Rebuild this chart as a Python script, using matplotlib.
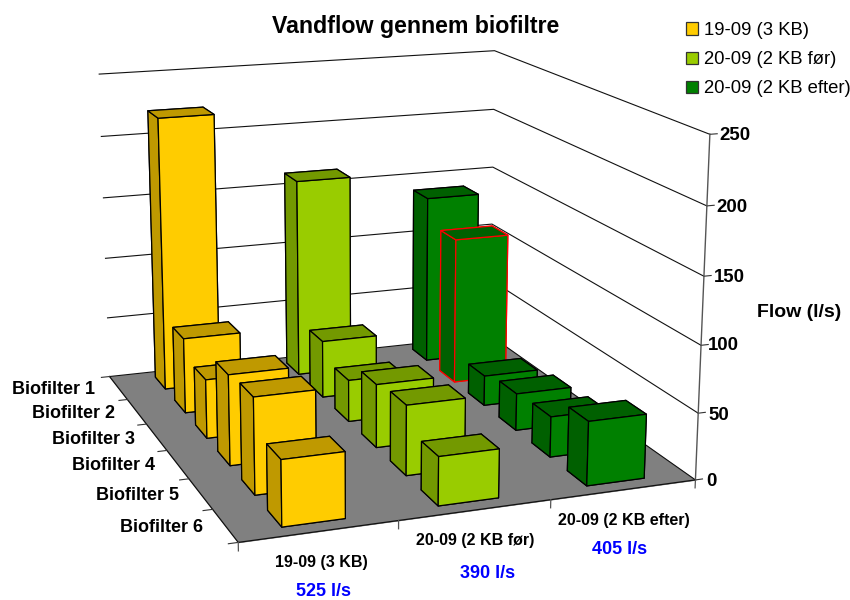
import matplotlib
matplotlib.use('Agg')
import matplotlib.pyplot as plt
from matplotlib.patches import Patch
from mpl_toolkits.mplot3d.art3d import Poly3DCollection

plt.rcParams['font.family'] = ['Liberation Sans', 'DejaVu Sans']

title = 'Vandflow gennem biofiltre'
series = ['19-09 (3 KB)', '20-09 (2 KB før)', '20-09 (2 KB efter)']
filters = ['Biofilter 1', 'Biofilter 2', 'Biofilter 3', 'Biofilter 4', 'Biofilter 5', 'Biofilter 6']
flow_a = [221, 60, 46, 69, 72, 48]
flow_b = [162, 46, 33, 49, 53, 36]
flow_c = [139, 119, 24, 29, 31, 48]
flows = [flow_a, flow_b, flow_c]
totals = ['525 l/s', '390 l/s', '405 l/s']
zticks = [0, 50, 100, 150, 200, 250]

face_cols = ['#FFCC00', '#99CC00', '#008000']
dark_cols = ['#BF9900', '#739900', '#006000']

W, H = 850, 600
nx, ny = len(series), len(filters)
zmax = zticks[-1]


def put(x, y, s, **kw):
    # text placed in picture pixels
    kw.setdefault('va', 'center')
    return fig.text(x / W, 1 - (y + 1) / H, s, **kw)


fig = plt.figure(figsize=(8.5, 6), dpi=100)
# square axes, sized so the 3D box falls where the reference has it
ax = fig.add_axes([7.4 / W, -41.2 / H, 729.5 / W, 729.5 / H], projection='3d', computed_zorder=False)
ax.set_axis_off()
ax.patch.set_visible(False)

floor = Poly3DCollection([[(0, 0, 0), (nx, 0, 0), (nx, ny, 0), (0, ny, 0)]],
                         facecolor='#808080', edgecolor='#808080', linewidth=0.5, zorder=1)
ax.add_collection3d(floor)

# walls
for z in zticks:
    ax.plot([0, nx, nx], [ny, ny, 0], [z, z, z], color='#111111', lw=0.8, zorder=2)
    ax.plot([nx, nx + 0.05], [0, 0], [z, z], color='#333333', lw=0.8, zorder=2)
ax.plot([nx, nx], [0, 0], [0, zmax], color='#555555', lw=1.0, zorder=2)

# floor edges and ticks
ax.plot([0, 0, nx], [ny, 0, 0], [0, 0, 0], color='#111111', lw=0.9, zorder=2)
for j in range(ny + 1):
    ax.plot([-0.06, 0], [j, j], [0, 0], color='#333333', lw=0.8, zorder=2)
for i in range(nx + 1):
    ax.plot([i, i], [0, 0], [-6, 0], color='#555555', lw=0.9, zorder=2)

# bars, back to front so the nearer ones cover the others
order = 10
for j in range(ny):
    for i in reversed(range(nx)):
        c, d = face_cols[i], dark_cols[i]
        edge = 'red' if (i == 2 and j == 1) else 'black'
        # faces: bottom, top, front, back, left, right
        ax.bar3d(i + 0.31, ny - j - 1 + 0.25, 0, 0.40, 0.52, flows[i][j],
                 color=[d, d, c, c, d, c], edgecolor=edge, linewidth=0.9,
                 shade=False, zorder=order)
        order += 1

ax.set_xlim(0, nx)
ax.set_ylim(0, ny)
ax.set_zlim(0, zmax)
ax.view_init(elev=15.057, azim=-110.06, roll=-0.048)
ax.set_proj_type('persp', focal_length=0.537)
ax.set_box_aspect((0.902, 1.0, 0.668))

put(416, 25, title, ha='center', fontsize=16.7, fontweight='bold')
put(799, 312, 'Flow (l/s)', ha='center', fontsize=14, fontweight='bold')

zlab_x = [706, 708, 708, 714, 716, 719]
zlab_y = [481, 414, 345, 276, 206, 134]
for z, x, y in zip(zticks, zlab_x, zlab_y):
    put(x, y, str(z), ha='left', fontsize=13.4, fontweight='bold')

flab_x = [95, 115, 135, 155, 179, 203]
flab_y = [389, 413, 438, 465, 495, 526]
for name, x, y in zip(filters, flab_x, flab_y):
    put(x, y, name, ha='right', fontsize=13, fontweight='bold')

slab_x = [321, 475, 624]
slab_y = [562, 539, 520]
for name, x, y in zip(series, slab_x, slab_y):
    put(x, y, name, ha='center', fontsize=11.5, fontweight='bold')

tot_x = [323, 488, 620]
tot_y = [590, 573, 548]
for name, x, y in zip(totals, tot_x, tot_y):
    put(x, y, name, ha='center', fontsize=13, fontweight='bold', color='#0000FF')

handles = [Patch(facecolor=c, edgecolor='#333333', linewidth=0.9) for c in face_cols]
fig.legend(handles, series, loc='upper left', bbox_to_anchor=(686 / W, 1 - 22 / H), frameon=False,
           fontsize=13.3, handlelength=0.65, handleheight=0.65, handletextpad=0.3,
           labelspacing=0.66, borderpad=0, borderaxespad=0)

fig.savefig('out.png', dpi=100)
